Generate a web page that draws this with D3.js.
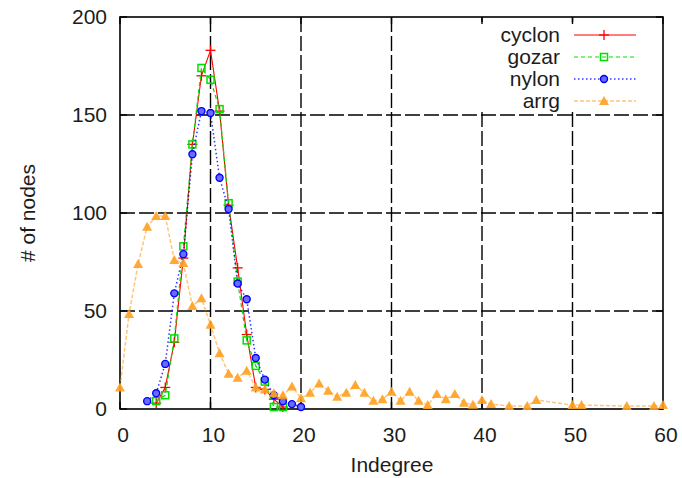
<!DOCTYPE html>
<html>
<head>
<meta charset="utf-8">
<script src="https://cdn.jsdelivr.net/npm/d3@7"></script>
<style>
  html, body { margin: 0; padding: 0; background: #fff; }
  svg { display: block; }
  text { font-family: "Liberation Sans", Arial, sans-serif; fill: #1c1c1c; }
</style>
</head>
<body>
<svg id="chart" width="682" height="478"></svg>
<script>
// ---- data ----
const cyclonX = [4, 5, 6, 7, 8, 9, 10, 11, 12, 13, 14, 15, 16, 17, 18];
const cyclonY = [3, 11, 34, 77, 135, 170, 183, 152, 104, 72, 38, 11, 10, 5, 1];

const gozarX = [4, 5, 6, 7, 8, 9, 10, 11, 12, 13, 14, 15, 16, 17, 18];
const gozarY = [4, 7, 36, 83, 135, 174, 168, 153, 105, 65, 35, 22, 14, 1, 1];

const nylonX = [3, 4, 5, 6, 7, 8, 9, 10, 11, 12, 13, 14, 15, 16, 17, 18, 19, 20];
const nylonY = [4, 8, 23, 59, 79, 130, 152, 151, 118, 102, 64, 56, 26, 15, 7, 4, 2.5, 1];

const arrgX = [0, 1, 2, 3, 4, 5, 6, 7, 8, 9, 10, 11, 12, 13, 14, 15, 16, 17, 18, 19, 20,
  21, 22, 23, 24, 25, 26, 27, 28, 29, 30, 31, 32, 33, 34, 35, 36, 37, 38, 39, 40, 41,
  43, 45, 46, 50, 51, 56, 59, 60];
const arrgY = [11, 48.5, 74, 93, 98.5, 98.5, 76, 74.5, 52.5, 56.5, 43, 28.5, 18, 16, 19.5, 11, 10, 8, 7, 11.5, 5.5,
  8.3, 13, 9.3, 6.3, 8.3, 12.2, 8.3, 4.2, 5, 8.8, 4.2, 8.8, 4.2, 2, 7.6, 5, 7.6, 3.2, 2.2, 4.6, 2.5,
  1.5, 1.5, 4.6, 2, 2, 1.5, 1.5, 2];

const xTicks = [0, 10, 20, 30, 40, 50, 60];
const yTicks = [0, 50, 100, 150, 200];
const seriesNames = ["cyclon", "gozar", "nylon", "arrg"];
const xLabel = "Indegree";
const yLabel = "# of nodes";

// ---- layout ----
const svg = d3.select("#chart");
const L = 120, R = 663, T = 17, B = 409;
const x = d3.scaleLinear().domain([0, 60]).range([L, R]);
const y = d3.scaleLinear().domain([0, 200]).range([B, T]);

const styles = {
  cyclon: { color: "#ff0000", dash: null, width: 1.1, opacity: 1, marker: "plus" },
  gozar:  { color: "#00e000", dash: "4,3", width: 1.2, opacity: 1, marker: "square" },
  nylon:  { color: "#0000ff", dash: "1.5,2.5", width: 1.5, opacity: 0.8, marker: "circle" },
  arrg:   { color: "#ffa020", dash: "4,2", width: 1.5, opacity: 0.6, marker: "triangle" }
};
const seriesData = {
  cyclon: cyclonX.map((v, i) => [v, cyclonY[i]]),
  gozar: gozarX.map((v, i) => [v, gozarY[i]]),
  nylon: nylonX.map((v, i) => [v, nylonY[i]]),
  arrg: arrgX.map((v, i) => [v, arrgY[i]])
};

// ---- grid ----
const grid = svg.append("g");
grid.selectAll("line.gx").data(xTicks.filter(d => d > 0 && d < 60)).join("line")
  .attr("x1", d => x(d)).attr("x2", d => x(d)).attr("y1", T).attr("y2", B)
  .attr("stroke", "#000").attr("stroke-width", 1.4).attr("stroke-dasharray", "15,4");
grid.selectAll("line.gy").data(yTicks.filter(d => d > 0 && d < 200)).join("line")
  .attr("x1", L).attr("x2", R).attr("y1", d => y(d)).attr("y2", d => y(d))
  .attr("stroke", "#000").attr("stroke-width", 1.4).attr("stroke-dasharray", "15,4");

// ---- legend background ----
svg.append("rect").attr("x", 478).attr("y", 22).attr("width", 184).attr("height", 89).attr("fill", "#fff");

// ---- frame & ticks ----
const frame = svg.append("g");
frame.append("rect").attr("x", L).attr("y", T).attr("width", R - L).attr("height", B - T)
  .attr("fill", "none").attr("stroke", "#000").attr("stroke-width", 1.6);
const tk = 7;
xTicks.forEach(d => {
  frame.append("line").attr("x1", x(d)).attr("x2", x(d)).attr("y1", B).attr("y2", B - tk).attr("stroke", "#000").attr("stroke-width", 1.4);
  frame.append("line").attr("x1", x(d)).attr("x2", x(d)).attr("y1", T).attr("y2", T + tk).attr("stroke", "#000").attr("stroke-width", 1.4);
});
yTicks.forEach(d => {
  frame.append("line").attr("x1", L).attr("x2", L + tk).attr("y1", y(d)).attr("y2", y(d)).attr("stroke", "#000").attr("stroke-width", 1.4);
  frame.append("line").attr("x1", R).attr("x2", R - tk).attr("y1", y(d)).attr("y2", y(d)).attr("stroke", "#000").attr("stroke-width", 1.4);
});

// tick labels
svg.selectAll("text.xt").data(xTicks).join("text")
  .attr("x", d => x(d) + 3).attr("y", 442).attr("text-anchor", "middle")
  .attr("font-size", 21).text(d => d);
svg.selectAll("text.yt").data(yTicks).join("text")
  .attr("x", 107).attr("y", d => y(d) + 7).attr("text-anchor", "end")
  .attr("font-size", 21).text(d => d);

svg.append("text").attr("x", 392).attr("y", 472).attr("text-anchor", "middle")
  .attr("font-size", 21).text(xLabel);
svg.append("text").attr("transform", "translate(35,213) rotate(-90)").attr("text-anchor", "middle")
  .attr("font-size", 21).text(yLabel);

// ---- markers ----
function drawMarker(g, type, cx, cy, color) {
  if (type === "plus") {
    g.append("line").attr("x1", cx - 5).attr("x2", cx + 5).attr("y1", cy).attr("y2", cy).attr("stroke", color).attr("stroke-width", 1.3);
    g.append("line").attr("x1", cx).attr("x2", cx).attr("y1", cy - 5).attr("y2", cy + 5).attr("stroke", color).attr("stroke-width", 1.3);
  } else if (type === "square") {
    g.append("rect").attr("x", cx - 3.5).attr("y", cy - 3.5).attr("width", 7).attr("height", 7)
      .attr("fill", "none").attr("stroke", color).attr("stroke-width", 1.5);
  } else if (type === "circle") {
    g.append("circle").attr("cx", cx).attr("cy", cy).attr("r", 3.5)
      .attr("fill", "#6a6aff").attr("stroke", color).attr("stroke-width", 1.4);
  } else if (type === "triangle") {
    g.append("path").attr("d", `M${cx},${cy - 5}L${cx + 5},${cy + 4}L${cx - 5},${cy + 4}Z`)
      .attr("fill", color).attr("opacity", 0.9);
  }
}

const line = d3.line().x(d => x(d[0])).y(d => y(d[1]));
const plot = svg.append("g");
seriesNames.forEach(name => {
  const st = styles[name];
  const g = plot.append("g");
  g.append("path").datum(seriesData[name]).attr("d", line)
    .attr("fill", "none").attr("stroke", st.color).attr("stroke-width", st.width)
    .attr("stroke-dasharray", st.dash).attr("opacity", st.opacity);
  seriesData[name].forEach(d => drawMarker(g, st.marker, x(d[0]), y(d[1]), st.color));
});

// ---- legend ----
const legend = svg.append("g");
seriesNames.forEach((name, i) => {
  const st = styles[name];
  const ly = 35 + i * 22;
  legend.append("text").attr("x", 560).attr("y", ly + 7).attr("text-anchor", "end")
    .attr("font-size", 21).text(name);
  legend.append("line").attr("x1", 574).attr("x2", 636).attr("y1", ly).attr("y2", ly)
    .attr("stroke", st.color).attr("stroke-width", st.width)
    .attr("stroke-dasharray", st.dash).attr("opacity", st.opacity);
  drawMarker(legend, st.marker, 604, ly, st.color);
});
</script>
</body>
</html>
